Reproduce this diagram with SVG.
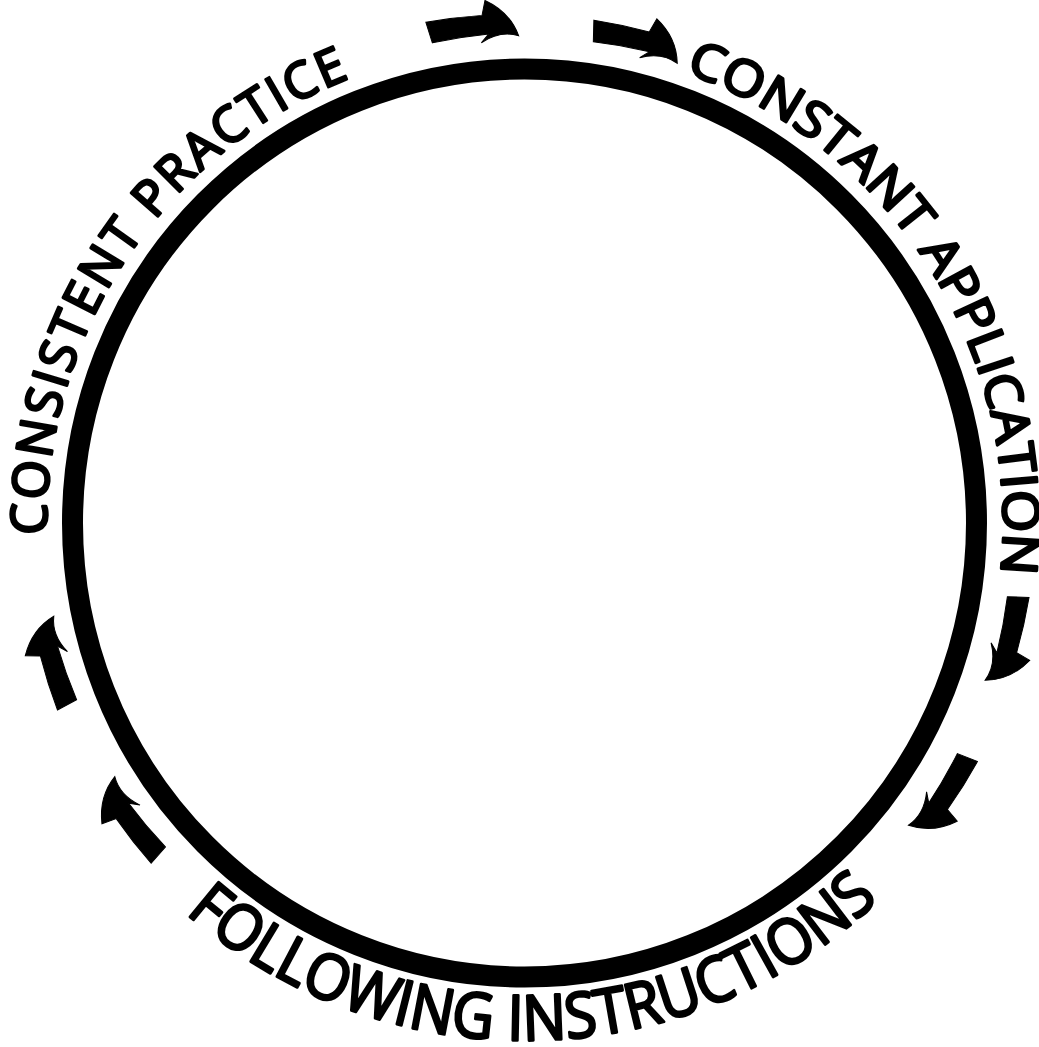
<svg xmlns="http://www.w3.org/2000/svg" xmlns:xlink="http://www.w3.org/1999/xlink" width="1039" height="1047" viewBox="0 0 1039 1047">
  <style>
    .lbl { font-family: "Open Sans", "DejaVu Sans", sans-serif; font-weight: 400; fill: #000; stroke: #000; stroke-width: 2.8; stroke-linejoin: round; }
    .top { font-size: 50px; }
    .bot { font-size: 63px; }
    .ring { fill: none; stroke: #000; stroke-width: 21; }
    .arr { fill: #000; stroke: #000; stroke-width: 1; stroke-linejoin: miter; }
  </style>
  <defs>
    <path id="arcPractice" d="M 47.14 534.68 A 477 477 0 0 1 401.28 61.29"/>
    <path id="arcApplication" d="M 685.35 72.70 A 477 477 0 0 1 995.74 606.00"/>
    <path id="arcInstructions" d="M 185.82 913.18 A 516 516 0 0 0 921.04 855.32"/>
    <path id="arrow" d="M 507.5 0 A 507.5 507.5 0 0 1 503.3 56.46 L 517.36 62.23 Q 501.38 84.45 476.12 88.45 Q 485.25 71.43 476.59 50.45 L 483.80 59.46 A 486 486 0 0 0 485.99 2.40 Z"/>
  </defs>
  <rect width="1039" height="1047" fill="#fff"/>
  <g id="ring">
    <ellipse class="ring" cx="524.5" cy="523" rx="452" ry="454"/>
  </g>
  <g id="connectors">
    <use class="arr" xlink:href="#arrow" transform="translate(525 523) rotate(258.8) translate(3 0)"/>
    <use class="arr" xlink:href="#arrow" transform="translate(525 523) rotate(277.8)"/>
    <use class="arr" xlink:href="#arrow" transform="translate(525 523) rotate(8.4) translate(2 0)"/>
    <use class="arr" xlink:href="#arrow" transform="translate(525 523) rotate(27.8) translate(4 0)"/>
    <use class="arr" xlink:href="#arrow" transform="translate(525 523) rotate(137.7) translate(-2 0)"/>
    <use class="arr" xlink:href="#arrow" transform="translate(525 523) rotate(158.2) translate(-4 0)"/>
  </g>
  <g id="node-consistent-practice">
    <text class="lbl top"><textPath xlink:href="#arcPractice" textLength="583" lengthAdjust="spacing">CONSISTENT PRACTICE</textPath></text>
  </g>
  <g id="node-constant-application">
    <text class="lbl top"><textPath xlink:href="#arcApplication" textLength="638" lengthAdjust="spacingAndGlyphs">CONSTANT APPLICATION</textPath></text>
  </g>
  <g id="node-following-instructions">
    <text class="lbl bot"><textPath xlink:href="#arcInstructions" textLength="760" lengthAdjust="spacingAndGlyphs">FOLLOWING INSTRUCTIONS</textPath></text>
  </g>
</svg>
